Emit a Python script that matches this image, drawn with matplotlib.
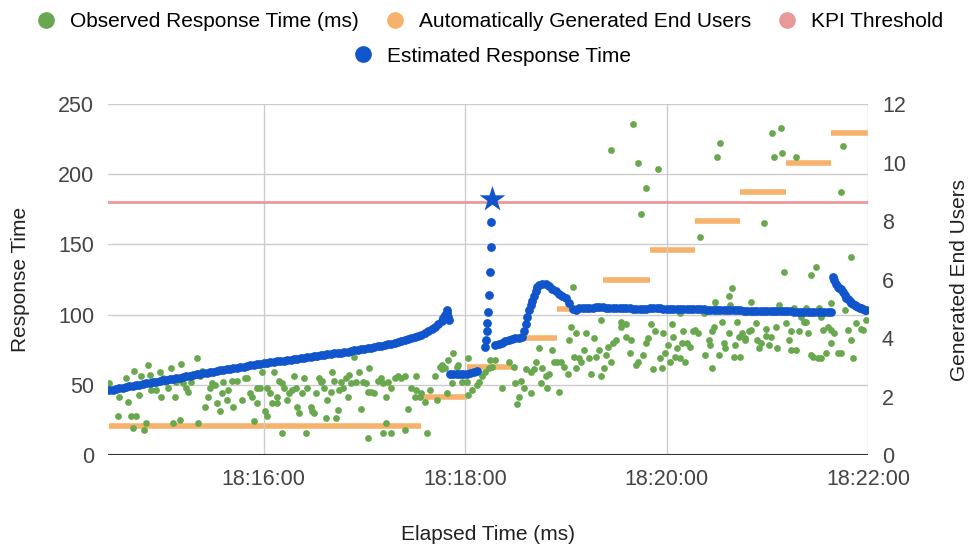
import matplotlib.pyplot as plt
from matplotlib.lines import Line2D
from matplotlib.ticker import FuncFormatter

# times are seconds after 18:14:00
obs_sec = [28, 33, 34, 38, 39, 41, 42, 43, 44, 46, 47, 49, 50, 51, 52, 53, 56, 58, 59, 60,
           62, 63, 65, 66, 67, 68, 70, 71, 72, 74, 75, 77, 80, 81, 82, 83, 85, 87, 88, 89,
           91, 92, 94, 95, 96, 98, 99, 101, 102,
           104, 107, 109, 110, 112, 113, 114, 116, 116, 118, 119, 121, 122, 122, 124, 125, 126, 128, 128, 129,
           131, 131, 132, 134, 135, 137, 138, 139, 140, 141, 143, 144, 145, 146, 148, 149, 150, 151, 153, 154,
           155, 156, 157, 158, 160, 161, 162, 163, 164, 165, 166, 167, 169, 170, 171, 172, 174, 175, 177, 178, 179,
           181, 182, 182, 183, 184, 186, 188, 190, 191, 191, 193, 193, 194, 196, 196, 198, 200, 202, 204, 204,
           206, 208, 210, 211, 211, 213, 214, 216, 217, 219, 222, 223, 225, 226, 226, 228, 229, 230, 232, 233,
           235, 236, 238, 241, 242, 242, 244, 247, 248, 250, 252, 254, 255, 256,
           258, 262, 266, 269, 270, 271, 272, 273, 275, 276, 279, 279, 281, 282, 284, 285, 286, 288, 289, 290,
           292, 293, 295, 296, 297, 299, 301, 302, 303, 304, 305, 306, 306, 308, 309, 311, 312, 314, 315, 317,
           318, 320, 321, 321, 323, 324, 325, 327, 327, 328, 330, 333, 333,
           336, 336, 338, 339, 340, 342, 343, 343, 345, 346, 348, 348, 349, 351, 352, 353, 355, 356, 357, 358,
           359, 361, 362, 363, 364, 365, 366, 368, 368, 369, 370, 371, 372, 374, 376, 377, 379, 380, 382, 383,
           385, 386, 387, 387, 388, 389, 389, 390, 391, 392, 393, 394, 395, 397, 397, 398, 399, 400, 401, 402,
           403, 404, 405, 407, 407, 409, 410, 410,
           413, 414, 415, 416, 418, 419, 419, 421, 422, 423, 424, 425, 426, 427, 428, 429, 430, 431, 433, 434,
           434, 436, 437, 437, 439, 440, 442, 443, 443, 444, 446, 446, 447, 449, 450, 451, 452, 452, 453, 455,
           456, 458, 458, 458, 460, 462, 464, 464, 465, 466, 468, 470, 470, 471, 473, 476, 477, 479]
obs_ms = [51, 28, 41, 55, 38, 28, 19, 60, 28, 43, 56, 18, 23, 64, 57, 46, 46, 59, 41, 55,
          52, 48, 62, 23, 41, 52, 25, 65, 51, 48, 45, 52, 69, 23, 56, 60, 34, 41, 48, 51,
          50, 37, 31, 44, 52, 39, 46, 53, 34,
          53, 39, 55, 55, 44, 41, 24, 48, 37, 48, 59, 31, 28, 48, 44, 37, 59, 37, 41, 53,
          16, 51, 48, 39, 44, 46, 56, 48, 34, 30, 44, 55, 16, 48, 34, 31, 30, 44, 55, 52,
          53, 48, 26, 39, 45, 59, 53, 26, 32, 46, 52, 48, 55, 41, 57, 51, 70, 52, 59, 33, 52,
          51, 45, 12, 62, 45, 44, 53, 55, 51, 16, 41, 23, 52, 48, 16, 55, 56, 55, 56, 18,
          33, 48, 41, 56, 46, 41, 44, 38, 16, 46, 56, 39, 63, 61, 64, 62, 44, 68, 51, 73,
          63, 64, 52, 52, 69, 43, 46, 50, 52, 56, 59, 62, 68, 63,
          68, 48, 66, 63, 51, 36, 41, 53, 48, 61, 44, 59, 61, 66, 76, 51, 62, 56, 48, 58,
          75, 66, 66, 45, 66, 63, 58, 82, 91, 120, 70, 62, 87, 69, 66, 75, 87, 69, 58, 83,
          70, 75, 96, 56, 62, 71, 77, 66, 217, 80, 82, 91, 95,
          93, 84, 73, 82, 236, 64, 208, 66, 172, 71, 80, 190, 83, 93, 61, 88, 204, 69, 62, 87,
          73, 78, 66, 93, 84, 70, 76, 69, 101, 80, 88, 66, 80, 77, 88, 89, 87, 155, 101, 71,
          82, 78, 88, 62, 91, 109, 105, 212, 71, 222, 95, 80, 76, 87, 113, 107, 119, 70, 78, 95,
          84, 70, 87, 82, 83, 88, 109, 89,
          94, 82, 76, 80, 165, 90, 85, 78, 84, 229, 212, 91, 76, 107, 233, 215, 130, 94, 82, 75,
          88, 105, 212, 75, 88, 98, 95, 105, 95, 87, 128, 71, 70, 134, 69, 105, 98, 69, 89, 73,
          91, 108, 80, 89, 87, 73, 187, 73, 220, 103, 89, 141, 82, 69, 94, 90, 89, 96]

est_sec = [28, 30, 32, 34, 36, 38, 40, 42, 44, 46, 48, 50, 52, 54, 56, 58, 60, 62, 64, 66,
           68, 70, 72, 74, 76, 78, 80, 82, 84, 86, 88, 90, 92, 94, 96, 98, 100, 102, 104, 106,
           108, 110, 112, 114, 116, 118, 120, 122, 124, 126, 128, 130, 132, 134, 136, 138, 140, 142, 144, 146,
           148, 150, 152, 154, 156, 158, 160, 162, 164, 166, 168, 170, 172, 174, 176, 178, 180, 182, 184, 186,
           188, 190, 192, 194, 196, 198, 200, 202, 204, 206, 208, 210, 212, 214, 216, 218, 220, 222, 224, 226,
           227, 228, 229, 229.5, 230, 230.5,
           231, 233, 235, 237, 239, 241, 243, 245, 247,
           252, 252.4, 252.8, 253.2, 253.6, 254.2, 254.8, 255.2, 255.6, 256,
           258, 260, 262, 264, 266, 268, 270, 272, 274,
           275, 276, 277, 278, 279, 280, 281, 282, 283, 284, 286, 288, 290, 292, 294, 296, 298, 300, 302, 304,
           306, 308, 310, 312, 314, 316, 318, 320, 322, 324, 326, 328, 330, 332, 334, 336, 338, 340, 342, 344,
           346, 348, 350, 352, 354, 356, 358, 360, 362, 364, 366, 368, 370, 372, 374, 376, 378, 380, 382, 384,
           386, 388, 390, 392, 394, 396, 398, 400, 402, 404, 406, 408, 410, 412, 414, 416, 418, 420, 422, 424,
           426, 428, 430, 432, 434, 436, 438, 440, 442, 444, 446, 448, 450, 452, 454, 456, 458,
           459, 460, 461, 462, 463, 464, 465, 466, 467, 468, 469, 470, 471, 472, 473, 474, 475, 476, 477, 478, 479]
est_ms = [46.0, 46.5, 47.0, 47.5, 48.0, 48.5, 49.0, 49.3, 49.8, 50.2, 50.6, 51.0, 51.4, 51.8, 52.3, 52.7, 53.1, 53.5, 54.0, 54.4,
          54.8, 55.2, 55.7, 56.1, 56.5, 57.0, 57.4, 57.8, 58.2, 58.6, 59.0, 59.4, 59.8, 60.2, 60.6, 61.0, 61.4, 61.8, 62.2, 62.6,
          63.0, 63.4, 63.8, 64.2, 64.6, 65.0, 65.4, 65.7, 66.0, 66.3, 66.7, 67.0, 67.3, 67.7, 68.0, 68.3, 68.7, 69.0, 69.3, 69.7,
          70.0, 70.3, 70.7, 71.0, 71.3, 71.7, 72.0, 72.3, 72.7, 73.0, 73.4, 73.7, 74.1, 74.5, 74.9, 75.3, 75.7, 76.1, 76.5, 77.0,
          77.4, 77.9, 78.4, 78.9, 79.4, 79.9, 80.5, 81.1, 81.7, 82.4, 83.1, 83.9, 84.8, 85.7, 86.8, 88.0, 89.5, 91.0, 93.0, 95.5,
          97.5, 100.0, 103.0, 101.0, 98.0, 96.0,
          58.0, 57.5, 57.5, 58.0, 58.0, 58.0, 58.5, 59.0, 60.0,
          77, 82, 88, 94, 102, 114, 130, 148, 166, 182,
          78.0, 79.0, 80.0, 81.0, 82.0, 82.5, 83.0, 83.5, 84.0,
          88, 93, 98, 103, 107, 110, 113, 117, 119.5, 121, 122, 122, 120.5, 118.5, 116.5, 115, 113.5, 112, 108, 104,
          103.5, 104.5, 105, 105, 105, 105, 105.2, 105.3, 105.2, 105, 105, 104.8, 104.5, 104.6, 104.8, 104.8, 104.5, 104.3, 104, 103.8,
          104, 104.3, 104.5, 104.6, 104.5, 104.4, 104.3, 104.2, 104.2, 104.3, 104.3, 104.2, 104.1, 104, 104, 103.9, 103.8, 103.8, 103.7, 103.6,
          103.6, 103.5, 103.4, 103.4, 103.3, 103.2, 103.2, 103.1, 103, 103, 102.9, 102.9, 102.8, 102.8, 102.7, 102.7, 102.6, 102.6, 102.5, 102.5,
          102.4, 102.4, 102.3, 102.3, 102.3, 102.2, 102.2, 102.1, 102.1, 102, 102, 102, 101.9, 101.9, 101.8, 101.8, 101.7,
          127, 125, 122, 120, 119, 118, 116, 114, 112, 111, 110, 108.5, 107.5, 107, 106, 105.5, 105, 104.5, 104, 103.5, 103]

user_start = [28, 214, 241, 268, 295, 322, 350, 377, 404, 431, 458]
user_end = [214, 241, 268, 295, 322, 350, 377, 404, 431, 458, 480]
user_count = [1, 2, 3, 4, 5, 6, 7, 8, 9, 10, 11]

kpi_ms = 180

GREEN = '#6aa84f'
ORANGE = '#f6b26b'
PINK = '#ea9999'
BLUE = '#1155cc'

plt.rcParams['font.family'] = ['Liberation Sans', 'DejaVu Sans']

fig = plt.figure(figsize=(9.69, 5.44), dpi=100)
ax = fig.add_axes([0.1115, 0.1636, 0.7843, 0.6452])
ax2 = ax.twinx()
# left-axis series go on top of the user steps
ax.set_zorder(ax2.get_zorder() + 1)
ax.patch.set_visible(False)

ax2.hlines(user_count, user_start, user_end, colors=ORANGE, linewidth=4, capstyle='butt')

ax.scatter(obs_sec, obs_ms, s=24, color=GREEN, linewidths=0, zorder=3)
ax.axhline(kpi_ms, color=PINK, linewidth=2, zorder=4)
ax.scatter(est_sec, est_ms, s=40, color=BLUE, linewidths=0, zorder=5)
peak = max(range(len(est_ms)), key=lambda i: est_ms[i])
ax.scatter([est_sec[peak]], [est_ms[peak]], s=380, marker='*', color=BLUE, linewidths=0, zorder=6)

ax.set_xlim(27.3, 480)
ax.set_ylim(0, 250)
ax2.set_ylim(0, 12)
ax.set_xticks([120, 240, 360, 480])
ax.set_yticks([0, 50, 100, 150, 200, 250])
ax2.set_yticks([0, 2, 4, 6, 8, 10, 12])


def clock(sec, pos):
    total = 18 * 3600 + 14 * 60 + int(round(sec))
    return f"{total // 3600}:{total % 3600 // 60:02d}:{total % 60:02d}"


ax.xaxis.set_major_formatter(FuncFormatter(clock))

ax.grid(True, color='#cccccc', linewidth=1)
ax.set_axisbelow(True)
for a in (ax, ax2):
    for side in ('top', 'left', 'right', 'bottom'):
        a.spines[side].set_visible(False)
    a.tick_params(length=0, labelsize=15.5, colors='#444444')
ax.axhline(0, color='#333333', linewidth=1.5, zorder=2)
ax.tick_params(axis='x', pad=10)
ax.tick_params(axis='y', pad=10)
ax2.tick_params(axis='y', pad=10)

ax.set_xlabel('Elapsed Time (ms)', fontsize=15, color='#222222', labelpad=25)
ax.set_ylabel('Response Time', fontsize=15, color='#222222', labelpad=20)
ax2.set_ylabel('Generated End Users', fontsize=15, color='#222222', labelpad=32)


def dot(color):
    return Line2D([], [], linestyle='none', marker='o', markersize=11, color=color)


fig.legend([dot(GREEN), dot(ORANGE), dot(PINK)],
           ['Observed Response Time (ms)', 'Automatically Generated End Users', 'KPI Threshold'],
           loc='center', bbox_to_anchor=(0.505, 0.96), ncol=3, frameon=False, fontsize=15,
           handlelength=1, handletextpad=0.65, columnspacing=1.25)
fig.legend([dot(BLUE)], ['Estimated Response Time'],
           loc='center', bbox_to_anchor=(0.508, 0.897), frameon=False, fontsize=15,
           handlelength=1, handletextpad=0.65)

fig.savefig('out.png', dpi=100)
